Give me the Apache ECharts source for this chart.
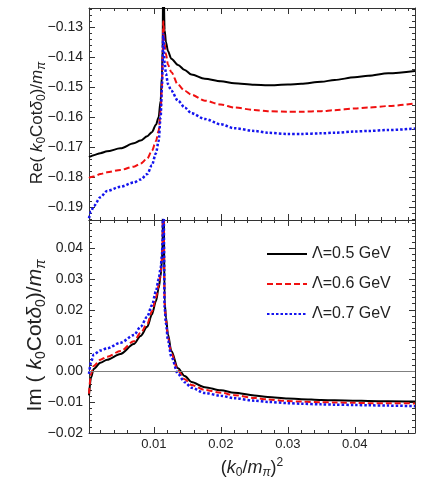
<!DOCTYPE html>
<html>
<head>
<meta charset="utf-8">
<title>k0 cot delta0</title>
<script src="https://cdn.jsdelivr.net/npm/echarts@6/dist/echarts.min.js"></script>
<style>
html, body { margin: 0; padding: 0; background: #fff; }
#main { width: 436px; height: 482px; }
</style>
</head>
<body>
<div id="main"></div>
<script>
// (k0/m_pi)^2 sample points
const kSq = [0.0003, 0.0006, 0.001, 0.002, 0.003, 0.005, 0.007, 0.008, 0.009, 0.0097,
    0.0103, 0.0107, 0.011, 0.0112, 0.0113, 0.01139, 0.0116, 0.0118, 0.0121, 0.0126,
    0.0136, 0.0146, 0.0156, 0.0176, 0.020, 0.022, 0.025, 0.027, 0.030, 0.032,
    0.035, 0.037, 0.040, 0.042, 0.045, 0.049];

// Re(k0 Cot delta0)/m_pi
const re05 = [-0.1733, -0.1730, -0.1727, -0.1720, -0.1714, -0.1704, -0.1687, -0.1678, -0.1664, -0.1650,
    -0.1625, -0.1600, -0.1545, -0.1460, -0.1370, -0.1100, -0.1310, -0.1350, -0.1380, -0.1405,
    -0.1426, -0.1443, -0.1458, -0.1472, -0.1480, -0.1487, -0.1492, -0.1494, -0.1491, -0.1489,
    -0.1482, -0.1476, -0.1467, -0.1462, -0.1454, -0.1446];
const re06 = [-0.1803, -0.1800, -0.1798, -0.1790, -0.1784, -0.1776, -0.1765, -0.1755, -0.1738, -0.1712,
    -0.1680, -0.1645, -0.1580, -0.1500, -0.1410, -0.1280, -0.1355, -0.1390, -0.1425, -0.1450,
    -0.1492, -0.1512, -0.1525, -0.1545, -0.1558, -0.1568, -0.1576, -0.1580, -0.1582, -0.1582,
    -0.1580, -0.1577, -0.1571, -0.1568, -0.1563, -0.1554];
const re07 = [-0.1937, -0.1915, -0.1897, -0.1867, -0.1846, -0.1832, -0.1818, -0.1808, -0.1790, -0.1760,
    -0.1720, -0.1680, -0.1600, -0.1500, -0.1420, -0.1322, -0.1420, -0.1455, -0.1490, -0.1512,
    -0.1545, -0.1568, -0.1587, -0.1606, -0.1624, -0.1637, -0.1646, -0.1652, -0.1656, -0.1656,
    -0.1654, -0.1652, -0.1648, -0.1646, -0.1643, -0.1638];

// Im(k0 Cot delta0)/m_pi
const im05 = [-0.0078, -0.0020, 0.0008, 0.0028, 0.0038, 0.0057, 0.0089, 0.0115, 0.0145, 0.0185,
    0.0228, 0.0270, 0.0310, 0.0360, 0.0420, 0.0700, 0.0225, 0.0175, 0.0120, 0.0066,
    0.0010, -0.0015, -0.0034, -0.0051, -0.0061, -0.0069, -0.0078, -0.0083, -0.0088, -0.0090,
    -0.0093, -0.0094, -0.0095, -0.0096, -0.0097, -0.0098];
const im06 = [-0.0072, -0.0008, 0.0018, 0.0038, 0.0048, 0.0066, 0.0098, 0.0125, 0.0155, 0.0195,
    0.0240, 0.0280, 0.0320, 0.0370, 0.0430, 0.0700, 0.0215, 0.0165, 0.0110, 0.0058,
    0.0002, -0.0025, -0.0044, -0.0060, -0.0069, -0.0077, -0.0086, -0.0091, -0.0096, -0.0098,
    -0.0100, -0.0101, -0.0102, -0.0103, -0.0103, -0.0104];
const im07 = [-0.0008, 0.0030, 0.0055, 0.0068, 0.0075, 0.0093, 0.0118, 0.0145, 0.0178, 0.0215,
    0.0260, 0.0300, 0.0335, 0.0380, 0.0430, 0.0700, 0.0205, 0.0155, 0.0100, 0.0048,
    -0.0008, -0.0035, -0.0053, -0.0070, -0.0079, -0.0087, -0.0095, -0.0099, -0.0103, -0.0105,
    -0.0107, -0.0108, -0.0109, -0.0110, -0.0111, -0.0113];

const legendNames = ['Λ=0.5 GeV', 'Λ=0.6 GeV', 'Λ=0.7 GeV'];

// tick labels
const xTicks = [0.01, 0.02, 0.03, 0.04];
const reTicks = [-0.19, -0.18, -0.17, -0.16, -0.15, -0.14, -0.13];
const imTicks = [-0.02, -0.01, 0.00, 0.01, 0.02, 0.03, 0.04];

const xRange = [0.0003, 0.049];
const reRange = [-0.1943, -0.1236];
const imRange = [-0.02, 0.0492];

const chart = echarts.init(document.getElementById('main'));
const FONT = 'Liberation Sans, Arial, sans-serif';
const lineCol = '#333';

function pairs(ys) {
    return kSq.map((x, i) => [x, ys[i]]);
}

// minor ticks every 0.002 inside the range, skipping the major ones
function minors(range) {
    const out = [];
    for (let k = Math.ceil(range[0] / 0.002 - 1e-6); k * 0.002 <= range[1] + 1e-9; k++) {
        if (k % 5 !== 0) out.push(+(k * 0.002).toFixed(4));
    }
    return out;
}

function tickFmt(v) {
    return (+v).toFixed(2).replace('-', '\u2212');
}

// one axis: major = long ticks (+labels), minor = short ticks only
function axis(kind, grid, pos, range, ticks, major, labels, extra) {
    const vals = major ? ticks : minors(range);
    return Object.assign({
        type: 'value', gridIndex: grid, position: pos,
        min: range[0], max: range[1],
        axisLine: { show: major, onZero: false, lineStyle: { color: lineCol, width: 1 } },
        axisTick: { show: true, inside: true, length: major ? 6 : 3, customValues: vals,
            lineStyle: { color: lineCol } },
        axisLabel: { show: labels, customValues: ticks, formatter: tickFmt,
            fontFamily: FONT, fontSize: kind === 'x' ? 13 : 14, color: '#222', margin: kind === 'x' ? 5 : 6 },
        splitLine: { show: false }
    }, extra || {});
}

const richName = (size) => ({
    n: { fontFamily: FONT, fontSize: size, color: '#222', lineHeight: size + 4 },
    i: { fontFamily: FONT, fontSize: size, fontStyle: 'italic', color: '#222', lineHeight: size + 4 },
    s: { fontFamily: FONT, fontSize: Math.round(size * 0.68), fontStyle: 'italic', color: '#222', lineHeight: 10, verticalAlign: 'bottom' },
    d: { fontFamily: FONT, fontSize: Math.round(size * 0.68), color: '#222', lineHeight: 10, verticalAlign: 'bottom' },
    p: { fontFamily: FONT, fontSize: Math.round(size * 0.68), color: '#222', lineHeight: 10, verticalAlign: 'top' }
});

const styles = [
    { color: '#000000', width: 2, type: 'solid' },
    { color: '#f01010', width: 2, type: [6, 3] },
    { color: '#1414ee', width: 2.5, type: [2.5, 2] }
];

function curve(name, ys, xi, yi, k, extra) {
    return Object.assign({
        name: name, type: 'line', xAxisIndex: xi, yAxisIndex: yi,
        data: pairs(ys), showSymbol: false, symbol: 'none',
        smooth: 0.3, smoothMonotone: 'x', clip: true,
        lineStyle: styles[k], itemStyle: { color: styles[k].color }
    }, extra || {});
}

const xName = {
    name: '{n|(}{i|k}{d|0}{n|/}{i|m}{s|π}{n|)}{p|2}',
    nameLocation: 'middle', nameGap: 24,
    nameTextStyle: { rich: richName(18) }
};
const reName = {
    name: '{n|Re( }{i|k}{d|0}{n|Cot}{i|δ}{d|0}{n|)/}{i|m}{s|π}',
    nameLocation: 'middle', nameRotate: 90, nameGap: 41, nameMoveOverlap: false,
    nameTextStyle: { rich: richName(17), padding: [0, 18, 0, 0] }
};
const imName = {
    name: '{n|Im ( }{i|k}{d|0}{n|Cot}{i|δ}{d|0}{n|)/}{i|m}{s|π}',
    nameLocation: 'middle', nameRotate: 90, nameGap: 41, nameMoveOverlap: false,
    nameTextStyle: { rich: richName(21), padding: [0, 18, 0, 0] }
};

const option = {
    animation: false,
    backgroundColor: '#fff',
    grid: [
        { left: 89, right: 21, top: 8, height: 212 },
        { left: 89, right: 21, top: 220, height: 213 }
    ],
    legend: {
        data: legendNames,
        orient: 'vertical', left: 261, top: 241,
        itemWidth: 40, itemHeight: 14, itemGap: 14,
        itemStyle: { opacity: 0 },
        textStyle: { fontFamily: FONT, fontSize: 16, color: '#222' }
    },
    xAxis: [
        axis('x', 0, 'bottom', xRange, xTicks, true, false),
        axis('x', 0, 'bottom', xRange, xTicks, false, false),
        axis('x', 0, 'top', xRange, xTicks, true, false),
        axis('x', 0, 'top', xRange, xTicks, false, false),
        axis('x', 1, 'bottom', xRange, xTicks, true, true, xName),
        axis('x', 1, 'bottom', xRange, xTicks, false, false),
        axis('x', 1, 'top', xRange, xTicks, true, false),
        axis('x', 1, 'top', xRange, xTicks, false, false)
    ],
    yAxis: [
        axis('y', 0, 'left', reRange, reTicks, true, true, reName),
        axis('y', 0, 'left', reRange, reTicks, false, false),
        axis('y', 0, 'right', reRange, reTicks, true, false),
        axis('y', 0, 'right', reRange, reTicks, false, false),
        axis('y', 1, 'left', imRange, imTicks, true, true, imName),
        axis('y', 1, 'left', imRange, imTicks, false, false),
        axis('y', 1, 'right', imRange, imTicks, true, false),
        axis('y', 1, 'right', imRange, imTicks, false, false)
    ],
    series: [
        curve(legendNames[0], re05, 0, 0, 0),
        curve(legendNames[1], re06, 0, 0, 1),
        curve(legendNames[2], re07, 0, 0, 2),
        curve(legendNames[0], im05, 4, 4, 0, {
            markLine: {
                silent: true, symbol: 'none', label: { show: false },
                lineStyle: { color: '#808080', width: 1, type: 'solid' },
                data: [{ yAxis: 0 }]
            }
        }),
        curve(legendNames[1], im06, 4, 4, 1),
        curve(legendNames[2], im07, 4, 4, 2)
    ]
};

chart.setOption(option);
</script>
</body>
</html>
